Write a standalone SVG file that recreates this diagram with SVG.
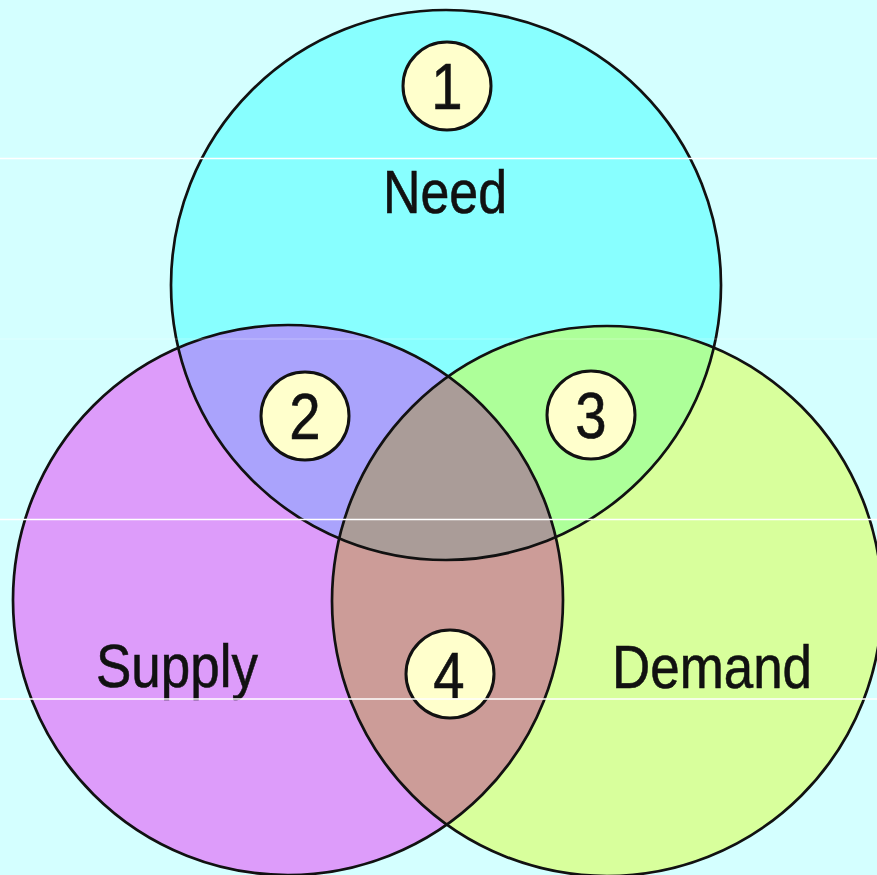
<svg xmlns="http://www.w3.org/2000/svg" width="877" height="875" viewBox="0 0 877 875">
  <style>
    .outline { fill: none; stroke: #111; stroke-width: 2.7; }
    .badge { fill: #ffffcc; stroke: #111; stroke-width: 3; }
    .label { font-family: "Liberation Sans", Arial, sans-serif; font-size: 61px; fill: #111; text-anchor: middle; stroke: #111; stroke-width: 0.6; }
    .num { font-family: "Liberation Sans", Arial, sans-serif; font-size: 64px; fill: #111; text-anchor: middle; stroke: #111; stroke-width: 0.6; }
    .scan { stroke: #ffffff; stroke-width: 1.3; }
  </style>
  <defs>
    <clipPath id="clipNeed"><circle cx="446" cy="285" r="275"/></clipPath>
    <clipPath id="clipSupply"><circle cx="288" cy="600" r="275"/></clipPath>
    <clipPath id="clipDemand"><circle cx="607" cy="601" r="275"/></clipPath>
  </defs>

  <rect x="0" y="0" width="877" height="875" fill="#d4ffff"/>

  <g id="supply">
    <circle cx="288" cy="600" r="275" fill="#dd9cfa"/>
  </g>
  <g id="demand">
    <circle cx="607" cy="601" r="275" fill="#d8ff9c"/>
  </g>
  <g id="need">
    <circle cx="446" cy="285" r="275" fill="#88ffff"/>
  </g>

  <g id="overlaps">
    <g clip-path="url(#clipNeed)">
      <circle cx="288" cy="600" r="275" fill="#aaa3fc"/>
      <circle cx="607" cy="601" r="275" fill="#adff99"/>
    </g>
    <g clip-path="url(#clipSupply)">
      <circle cx="607" cy="601" r="275" fill="#cc9c98"/>
    </g>
    <g clip-path="url(#clipNeed)">
      <g clip-path="url(#clipSupply)">
        <circle cx="607" cy="601" r="275" fill="#aa9c98"/>
      </g>
    </g>
  </g>

  <g id="outlines">
    <circle class="outline" cx="446" cy="285" r="275"/>
    <circle class="outline" cx="288" cy="600" r="275"/>
    <circle class="outline" cx="607" cy="601" r="275"/>
  </g>

  <g id="label-need"><text class="label" x="445" y="213" textLength="124" lengthAdjust="spacingAndGlyphs">Need</text></g>
  <g id="label-supply"><text class="label" x="177" y="687" textLength="162" lengthAdjust="spacingAndGlyphs">Supply</text></g>
  <g id="label-demand"><text class="label" x="712" y="688" textLength="200" lengthAdjust="spacingAndGlyphs">Demand</text></g>

  <g id="badge-1">
    <circle class="badge" cx="447" cy="86" r="44"/>
    <text class="num" transform="translate(447,109) scale(0.88,1)">1</text>
  </g>
  <g id="badge-2">
    <circle class="badge" cx="305" cy="416" r="44"/>
    <text class="num" transform="translate(305,439) scale(0.88,1)">2</text>
  </g>
  <g id="badge-3">
    <circle class="badge" cx="591" cy="415" r="44"/>
    <text class="num" transform="translate(591,438) scale(0.88,1)">3</text>
  </g>
  <g id="badge-4">
    <circle class="badge" cx="450" cy="674" r="44"/>
    <text class="num" transform="translate(449,698) scale(0.88,1)">4</text>
  </g>

  <g id="scanlines">
    <line class="scan" x1="0" y1="158.5" x2="877" y2="158.5"/>
    <line class="scan" x1="0" y1="339" x2="877" y2="339" stroke-opacity="0.2"/>
    <line class="scan" x1="0" y1="519.5" x2="877" y2="519.5"/>
    <line class="scan" x1="0" y1="699" x2="877" y2="699"/>
  </g>
</svg>
